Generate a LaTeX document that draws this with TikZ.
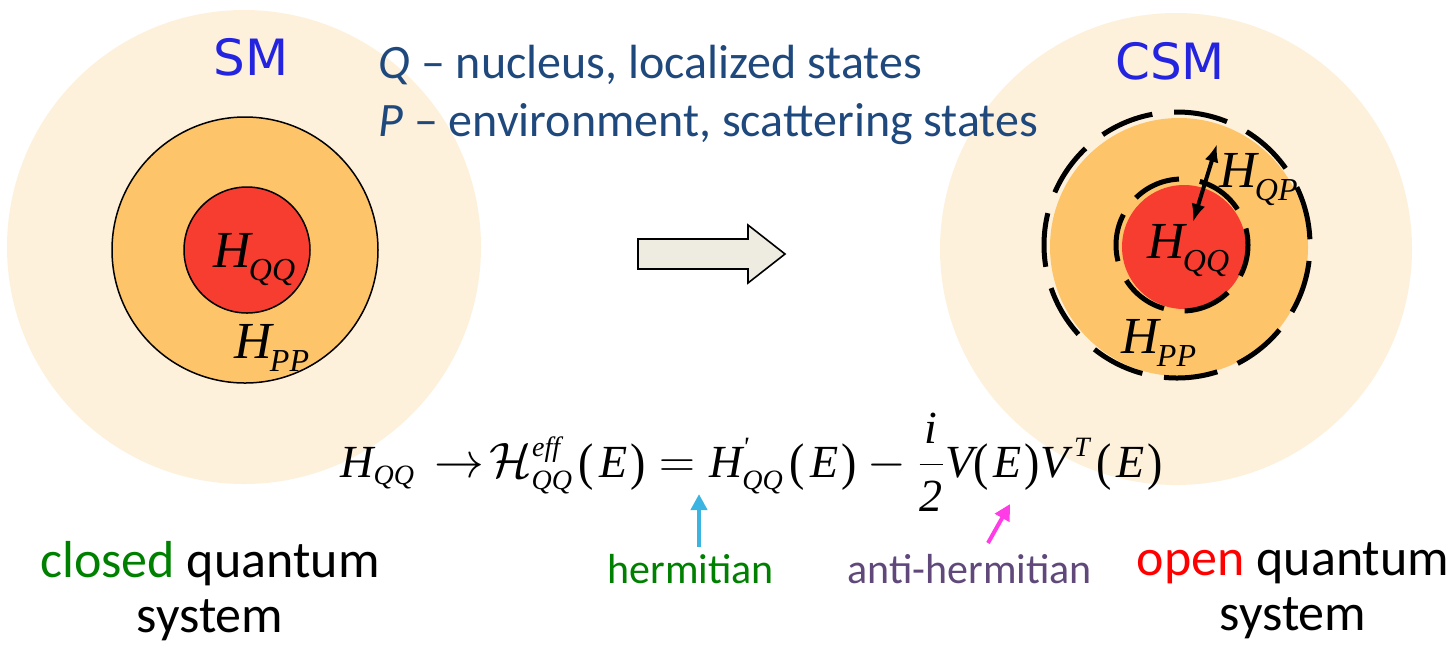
\documentclass[tikz,border=0pt]{standalone}
\usepackage{fontspec}
\usepackage{graphicx}
\setmainfont{Carlito}
\newfontfamily\tms{Liberation Serif}
\newfontfamily\smfont{DejaVu Sans}
\usetikzlibrary{arrows.meta}
\definecolor{pale}{RGB}{253,241,220}
\definecolor{orng}{RGB}{253,196,106}
\definecolor{redc}{RGB}{247,60,48}
\definecolor{smblue}{RGB}{36,36,224}
\definecolor{txtblue}{RGB}{31,73,125}
\definecolor{grn}{RGB}{0,128,0}
\definecolor{purp}{RGB}{96,73,122}
\definecolor{cyanc}{RGB}{60,180,225}
\definecolor{magc}{RGB}{255,60,230}
\definecolor{arrfill}{RGB}{238,236,225}
\newcommand{\mi}[1]{\hbox{\tms\itshape #1}}
\newcommand{\ms}[1]{\hbox{\fontsize{14}{14}\selectfont\tms\itshape #1}}
\newcommand{\lp}{\mathopen{\hbox{\raisebox{-1pt}{\scalebox{1}[1.12]{\tms(}}}}}
\newcommand{\rp}{\mathclose{\hbox{\raisebox{-1pt}{\scalebox{1}[1.12]{\tms)}}}}}
\newcommand{\pE}{\lp\mkern2mu\mi{E}\mkern1mu\rp}
\newcommand{\Hlab}[1]{{\fontsize{26}{26}\selectfont\tms\itshape H\kern-1pt\raisebox{-6.5pt}{\fontsize{16}{16}\selectfont #1}}}
\tikzset{
  hlab/.style={anchor=base west, inner sep=0pt},
  smlab/.style={font=\smfont\fontsize{25}{25}\selectfont, text=smblue, inner sep=0pt},
  body/.style={font=\fontsize{26}{27.5}\selectfont, inner sep=0pt, align=center},
  note/.style={font=\fontsize{21}{21}\selectfont, inner sep=0pt, anchor=base west},
  pointer/.style={line width=2pt, -{Triangle[length=8pt,width=8pt]}},
  dashring/.style={line width=2.5pt, draw=black}
}
\begin{document}
\begin{tikzpicture}[x=0.5pt,y=-0.5pt]
\useasboundingbox (0,0) rectangle (1456,645);
% left system
\fill[pale] (244,247) circle[radius=237];
\filldraw[fill=orng, draw=black, line width=0.75pt] (245,250) circle[radius=133];
\filldraw[fill=redc, draw=black, line width=0.75pt] (247,250) circle[radius=63];
% right system
\fill[pale] (1176,249) circle[radius=236];
\fill[orng] (1179,247) circle[radius=129];
\draw[dashring, dash pattern=on 27pt off 11pt, dash phase=30pt] (1177,245) circle[radius=133];
\fill[redc] (1184,247) circle[radius=62];
\draw[dashring, dash pattern=on 24pt off 10.5pt, dash phase=8pt] (1182,245) circle[radius=66];
% labels
\node[smlab] (sm) at (251,57) {SM};
\node[smlab] (csm) at (1170,61) {CSM};
\node[hlab] (lqq) at (213,267) {\Hlab{QQ}};
\node[hlab] (lpp) at (234,358) {\Hlab{PP}};
\node[hlab] (rqq) at (1147,258) {\Hlab{QQ}};
\node[hlab] (rpp) at (1121,353) {\Hlab{PP}};
\node[hlab] (rqp) at (1219,187) {\Hlab{QP}};
\coordinate (qpa) at (1217,144);
\coordinate (qpb) at (1193,222);
\draw[line width=2pt, {Latex[length=9pt,width=7pt]}-{Latex[length=9pt,width=7pt]}] (qpa) -- (qpb);
% Q/P description
\node[font=\fontsize{24}{24}\selectfont, text=txtblue, inner sep=0pt, anchor=base west] (qline) at (378,78) {\textit{Q} -- nucleus, localized states};
\node[font=\fontsize{24}{24}\selectfont, text=txtblue, inner sep=0pt, anchor=base west] (pline) at (378,136) {\textit{P} -- environment, scattering states};
% block arrow
\filldraw[fill=arrfill, draw=black, line width=0.8pt, line join=miter]
  (638,239) -- (748,239) -- (748,225) -- (785,254) -- (748,283) -- (748,269) -- (638,269) -- cycle;
% equation
\node[anchor=base west, inner sep=0pt, font=\fontsize{23}{27}\selectfont] (eq) at (340,477)
 {$\displaystyle \mi{H}_{\ms{QQ}}\mkern2mu\rightarrow\mkern-3mu\mathcal{H}^{\ms{eff}}_{\ms{QQ}}\mkern2mu\pE=\mi{H}^{\ms{'}}_{\ms{QQ}}\mkern2mu\pE-\frac{\mi{i}}{\mi{2}}\mi{V}\pE\mi{V}^{\mkern3mu\ms{T}}\mkern2mu\pE$};
% pointers
\node[note, text=grn] (herm) at (607,583) {hermitian};
\node[note, text=purp] (antiherm) at (847,583) {anti-hermitian};
\coordinate (c1) at (699,547);
\coordinate (c2) at (699,494);
\draw[pointer, cyanc] (c1) -- (c2);
\coordinate (m1) at (988,543);
\coordinate (m2) at (1010,504);
\draw[pointer, magc] (m1) -- (m2);
% bottom captions
\node[body] (closed) at (210,591) {\textcolor{grn}{closed} quantum\\system};
\node[body] (open) at (1293,591) {\textcolor{red}{open} quantum\\system};
\end{tikzpicture}
\end{document}
